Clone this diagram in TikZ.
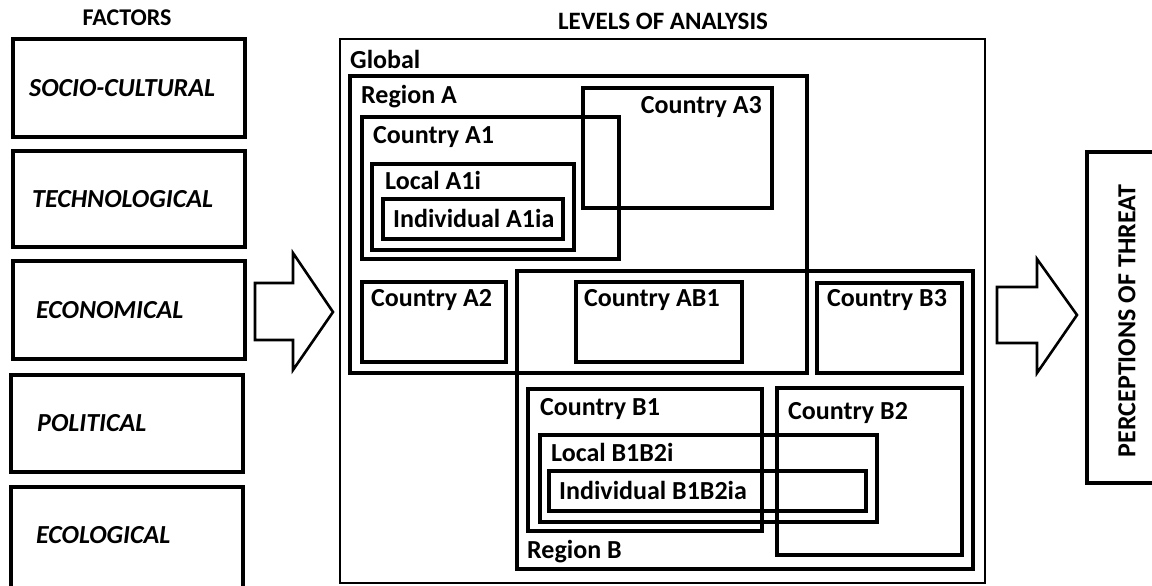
\documentclass[tikz,border=0pt]{standalone}
\usepackage{fontspec}
\setmainfont{Carlito}
\begin{document}
\begin{tikzpicture}[x=1pt,y=-1pt,
  box/.style={draw=black,line width=3.2pt},
  gbox/.style={draw=black,line width=2.4pt},
  lbl/.style={anchor=west,inner sep=0pt,font=\fontsize{26}{30}\selectfont\bfseries},
  flbl/.style={anchor=west,inner sep=0pt,font=\fontsize{26}{30}\selectfont\bfseries\itshape},
  head/.style={inner sep=0pt,font=\fontsize{25}{29}\selectfont\bfseries},
  barrow/.style={draw=black,line width=2.6pt,line join=miter,fill=white}]
\useasboundingbox (0,0) rectangle (1152,586);
\fill[white] (0,0) rectangle (1152,586);
% headings
\node[head,font=\fontsize{24}{28}\selectfont\bfseries] (hf) at (127,18) {FACTORS};
\node[head] (hl) at (663,21) {LEVELS OF ANALYSIS};
% factor boxes
\draw[box] (13,39) rectangle (245,137);
\draw[box] (13,151) rectangle (245,247);
\draw[box] (13,261) rectangle (245,359);
\draw[box] (11,375) rectangle (243,472);
\draw[box] (11,487) rectangle (243,592);
\node[flbl] (f1) at (29,88) {SOCIO-CULTURAL};
\node[flbl] (f2) at (32,199) {TECHNOLOGICAL};
\node[flbl] (f3) at (36,310) {ECONOMICAL};
\node[flbl] (f4) at (37,423) {POLITICAL};
\node[flbl] (f5) at (36,535) {ECOLOGICAL};
% block arrows
\draw[barrow] (255,283) -- (293,283) -- (293,253) -- (333,312) -- (293,370) -- (293,340) -- (255,340) -- cycle;
\draw[barrow] (997,287) -- (1037,287) -- (1037,259) -- (1077,315) -- (1037,373) -- (1037,343) -- (997,343) -- cycle;
% perceptions box
\draw[box] (1160,152) -- (1087,152) -- (1087,483) -- (1160,483);
\node[head,rotate=90,font=\fontsize{26}{30}\selectfont\bfseries] (pt) at (1127,321) {PERCEPTIONS OF THREAT};
% levels
\draw[gbox] (340,39) rectangle (985,583);
\node[lbl] (gl) at (350,59) {Global};
\draw[box] (350,76) rectangle (807,373);
\node[lbl] (ra) at (361,97) {Region A};
\draw[box] (583,88) rectangle (772,208);
\node[lbl,anchor=east] (ca3) at (762,107) {Country A3};
\draw[box] (362,117) rectangle (619,259);
\node[lbl] (ca1) at (373,137) {Country A1};
\draw[box] (372,164) rectangle (574,250);
\node[lbl] (la1) at (385,180) {Local A1i};
\draw[box] (383,199) rectangle (563,239);
\node[lbl] (ia1) at (393,218) {Individual A1ia};
\draw[box] (362,282) rectangle (506,362);
\node[lbl] (ca2) at (371,300) {Country A2};
\draw[box] (576,282) rectangle (742,362);
\node[lbl] (cab1) at (584,300) {Country AB1};
\draw[box] (517,271) rectangle (973,569);
\node[lbl] (rb) at (527,552) {Region B};
\draw[box] (817,283) rectangle (962,373);
\node[lbl] (cb3) at (827,300) {Country B3};
\draw[box] (528,389) rectangle (762,531);
\node[lbl] (cb1) at (540,409) {Country B1};
\draw[box] (777,388) rectangle (962,555);
\node[lbl] (cb2) at (788,413) {Country B2};
\draw[box] (540,435) rectangle (877,522);
\node[lbl] (lb) at (551,452) {Local B1B2i};
\draw[box] (549,471) rectangle (866,511);
\node[lbl] (ib) at (559,490) {Individual B1B2ia};
\end{tikzpicture}
\end{document}
